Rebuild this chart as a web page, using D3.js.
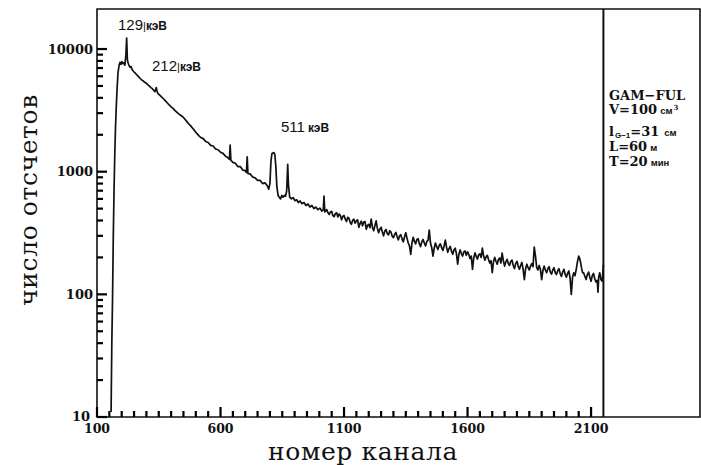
<!DOCTYPE html>
<html>
<head>
<meta charset="utf-8">
<script src="https://cdn.jsdelivr.net/npm/d3@7/dist/d3.min.js"></script>
<style>
  html, body { margin: 0; padding: 0; background: #fff; }
  svg { display: block; }
</style>
</head>
<body>
<svg id="chart" width="701" height="465"></svg>
<script>
// ---- data ----
const channels = [
  157,160,163,166,169,172,175,178,181,185,189,193,197,201,205,209,213,217,220,223,226,230,234,238,242,246,250,255,260,265,270,275,281,287,293,300,306,312,318,324,330,335,340,343,346,352,360,368,376,384,392,400,408,416,424,432,440,448,456,464,472,480,488,496,504,512,520,
  530,540,550,560,570,580,590,600,610,620,630,636,639,642,650,660,670,680,690,700,705,708,711,720,730,740,750,760,770,780,790,795,800,804,808,812,816,820,824,828,833,838,843,848,853,858,863,868,872,875,
  880,887,894,901,908,915,922,930,938,946,954,962,970,978,986,994,1002,1010,1016,1019,1022,
  1030,1035,1040,1045,1050,1055,1060,1065,1070,1075,1080,1085,1090,1095,1100,1105,1110,1115,1120,1125,1130,1135,1140,1145,1150,1155,1160,1165,1170,1175,1180,1185,1190,1195,1200,1205,1210,1215,1220,1225,1230,1235,1240,1245,1250,1255,1260,1265,1270,1275,1280,1285,1290,1295,1300,1305,1310,1315,1320,1325,1330,1335,1340,1345,1350,1355,1360,1365,1370,1375,1380,1385,1390,1395,1400,1405,1410,1415,1420,1425,1430,1435,1440,1445,1450,1455,1460,1465,1470,1475,1480,1485,1490,1495,1500,1505,1510,1515,1520,1525,1530,1535,1540,1545,1550,1555,1560,1565,1570,1575,1580,1585,1590,1595,1600,1605,1610,1615,1620,1625,1630,1635,1640,1645,1650,1655,1660,1665,1670,1675,1680,1685,1690,1695,1700,1705,1710,1715,1720,1725,1730,1735,1740,1745,1750,1755,1760,1765,1770,1775,1780,1785,1790,1795,1800,1805,1810,1815,1820,1825,1830,1835,1840,1845,1850,1855,1860,1865,1870,1875,1880,1885,1890,1895,1900,1905,1910,1915,1920,1925,1930,1935,1940,1945,1950,1955,1960,1965,1970,1975,1980,1985,1990,1995,2000,2005,2010,2015,2020,2025,2030,2035,2040,2045,2050,2054,2058,2062,2066,2070,2075,2080,2085,2090,2095,2100,2105,2110,2115,2120,2125,2128,2131,2135,2140,2145,2150
];
const counts = [
  11,40,95,300,700,1400,2300,3400,4600,6400,7300,7800,7500,7900,7600,7700,7400,9000,12300,8200,7700,7300,7100,7200,6800,6650,6500,6350,6200,6050,5900,5750,5600,5500,5350,5250,5100,5000,4850,4750,4600,4500,4850,4550,4350,4250,4100,3950,3800,3650,3500,3380,3280,3150,3050,2950,2870,2790,2680,2560,2450,2350,2250,2150,2050,1970,1900,
  1860,1760,1730,1640,1620,1530,1510,1440,1410,1340,1300,1260,1650,1240,1190,1170,1100,1100,1030,1020,985,1320,965,960,905,890,850,850,800,810,765,720,800,1200,1400,1420,1430,1380,1100,760,640,620,600,640,620,640,630,700,1150,780,
  620,600,615,580,590,560,578,548,560,530,545,515,530,500,515,490,505,478,488,633,470,
  490,462,448,470,475,438,430,455,462,428,452,440,405,432,440,410,392,425,418,385,372,402,410,380,398,405,352,378,395,362,389,392,340,365,372,350,411,352,330,362,397,345,318,340,352,322,300,328,338,312,305,330,322,298,290,308,320,295,278,300,306,282,268,295,318,286,262,248,212,262,292,270,258,280,284,258,245,268,280,262,248,270,275,334,262,240,205,238,262,245,232,250,258,240,228,248,277,242,220,236,246,225,212,230,238,215,176,212,230,215,205,222,226,208,222,212,196,205,160,198,218,204,194,210,214,200,238,205,190,202,208,192,180,188,150,185,200,186,176,192,198,180,217,188,170,184,193,178,172,186,190,172,162,178,186,170,160,172,182,160,132,162,176,165,158,170,178,168,243,205,165,158,172,160,132,156,170,158,150,162,168,152,146,158,165,150,145,156,162,148,140,152,160,146,138,148,155,136,100,138,150,142,160,185,205,196,180,162,150,150,140,132,145,152,138,128,142,148,134,126,130,104,138,150,132,128,174
];
const xTickLabels = [100, 600, 1100, 1600, 2100];
const yTickLabels = [10, 100, 1000, 10000];
const dividerChannel = 2150;
const peakLabels = [
  { num: "129", unit: "кэВ", bar: true },
  { num: "212", unit: "кэВ", bar: true },
  { num: "511", unit: "кэВ", bar: false }
];
const infoLines = ["GAM−FUL", "V=100", "l", "L=60", "T=20"];

// ---- layout ----
const svg = d3.select("#chart");
const L = 97, R = 700, T = 9, B = 417;
const x = d3.scaleLinear().domain([100, 2541]).range([L, R]);
const y = d3.scaleLog().domain([10, 21200]).range([B, T]);
const ink = "#111";
const serif = "'DejaVu Serif', 'Liberation Serif', serif";
const sans = "'Liberation Sans', Arial, sans-serif";

// frame
svg.append("path")
  .attr("d", `M${L},${T}H${R}V${B}H${L}Z`)
  .attr("fill", "none").attr("stroke", ink).attr("stroke-width", 1.6);

// x ticks (inward)
const xTicks = d3.range(100, 2101, 50);
svg.append("g").selectAll("line").data(xTicks).join("line")
  .attr("x1", d => x(d)).attr("x2", d => x(d))
  .attr("y1", B).attr("y2", d => B - (xTickLabels.includes(d) ? 10 : 6))
  .style("stroke", "#000").style("stroke-width", "2.2px");
svg.append("g").selectAll("text").data(xTickLabels).join("text")
  .attr("x", d => x(d)).attr("y", 433).attr("text-anchor", "middle").attr("fill", ink)
  .style("font-family", serif).style("font-weight", "bold").style("font-size", "12.5px")
  .text(d => d);

// y ticks (inward)
const yTicks = [];
[10, 100, 1000].forEach(d => { for (let k = 1; k <= 9; k++) yTicks.push(d * k); });
yTicks.push(10000);
svg.append("g").selectAll("line").data(yTicks).join("line")
  .attr("x1", L).attr("x2", d => L + (yTickLabels.includes(d) ? 10 : 6))
  .attr("y1", d => y(d)).attr("y2", d => y(d))
  .style("stroke", "#000").style("stroke-width", "2.2px");
svg.append("g").selectAll("text").data(yTickLabels).join("text")
  .attr("x", d => d === 10 ? 90 : 93).attr("y", d => y(d) + (d === 10 ? 4 : 4.5)).attr("text-anchor", "end").attr("fill", ink)
  .style("font-family", serif).style("font-weight", "bold").style("font-size", "13px")
  .text(d => d);

// divider
svg.append("path").attr("d", `M${x(dividerChannel).toFixed(2)},${T}V${B}`)
  .attr("fill", "none").attr("stroke", ink).attr("stroke-width", 2);

// spectrum
const pts = channels.map((c, i) => [c, counts[i]]);
svg.append("path").datum(pts)
  .attr("fill", "none").attr("stroke", ink).attr("stroke-width", 1.7).attr("stroke-linejoin", "round")
  .attr("d", d3.line().x(d => x(d[0])).y(d => y(d[1])));

// axis titles
svg.append("text").attr("x", 363).attr("y", 460).attr("text-anchor", "middle")
  .attr("fill", ink).style("font-family", serif).style("font-size", "25px").style("letter-spacing", "0.6px")
  .text("номер канала");
svg.append("text").attr("transform", "translate(37,200) rotate(-90)").attr("text-anchor", "middle")
  .attr("fill", ink).style("font-family", serif).style("font-size", "25px").style("letter-spacing", "0.6px")
  .text("число отсчетов");

// peak labels
const peakPos = [[118, 30], [152, 71], [281, 132]];
peakLabels.forEach((p, i) => {
  const t = svg.append("text").attr("x", peakPos[i][0]).attr("y", peakPos[i][1]).attr("fill", ink)
    .style("font-family", sans);
  t.append("tspan").style("font-size", "15px").text(p.num);
  if (p.bar) t.append("tspan").style("font-size", "11px").text("|");
  else t.append("tspan").style("font-size", "11px").text(" ");
  t.append("tspan").style("font-size", "12px").style("font-weight", "bold").text(p.unit);
});

// info panel
const info = svg.append("g").attr("fill", ink).style("font-family", serif).style("font-weight", "bold");
const ix = 609;
info.append("text").attr("x", ix).attr("y", 100).style("font-size", "13px").text(infoLines[0]);
const l2 = info.append("text").attr("x", ix).attr("y", 114).style("font-size", "13px");
l2.append("tspan").text(infoLines[1]);
l2.append("tspan").style("font-family", sans).style("font-size", "9.5px").attr("dx", 3).text("см");
l2.append("tspan").style("font-size", "7px").attr("dy", -4).attr("dx", 1).text("3");
const l3 = info.append("text").attr("x", ix).attr("y", 136).style("font-size", "13px");
l3.append("tspan").text(infoLines[2]);
l3.append("tspan").style("font-family", sans).style("font-size", "8px").attr("dy", 2).attr("dx", 1).text("G−1");
l3.append("tspan").attr("dy", -2).text("=31");
l3.append("tspan").style("font-family", sans).style("font-size", "9.5px").attr("dx", 5).text("см");
const l4 = info.append("text").attr("x", ix).attr("y", 151).style("font-size", "13px");
l4.append("tspan").text(infoLines[3]);
l4.append("tspan").style("font-family", sans).style("font-size", "9.5px").attr("dx", 3).text("м");
const l5 = info.append("text").attr("x", ix).attr("y", 166).style("font-size", "13px");
l5.append("tspan").text(infoLines[4]);
l5.append("tspan").style("font-family", sans).style("font-size", "9.5px").attr("dx", 3).text("мин");
</script>
</body>
</html>
